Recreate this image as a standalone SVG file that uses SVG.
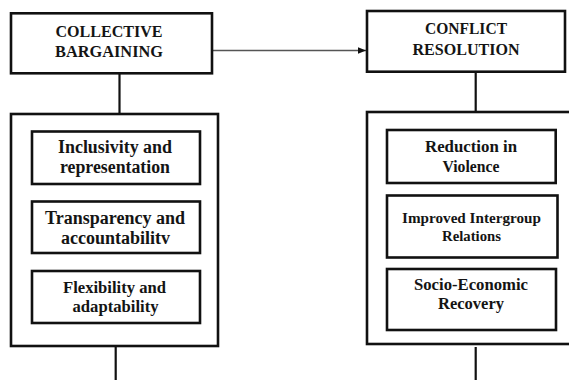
<svg xmlns="http://www.w3.org/2000/svg" width="569" height="380" viewBox="0 0 569 380">
<style>
.box{fill:#fff;stroke:#111;stroke-width:2.6}
.t{font-family:"Liberation Serif","Times New Roman",serif;font-weight:bold;fill:#141414;text-anchor:middle}
.h{font-size:16px}
.conn{stroke:#111;stroke-width:2.2;fill:none}
.arr{stroke:#555;stroke-width:1.3;fill:none}
</style>
<defs>
<marker id="ah" markerWidth="8" markerHeight="8" refX="8" refY="4" orient="auto" markerUnits="userSpaceOnUse">
<path d="M0,0.8 L8,4 L0,7.2 Z" fill="#111"/>
</marker>
</defs>
<rect width="569" height="380" fill="#fff"/>
<g id="connectors">
<line class="arr" x1="213" y1="50.5" x2="366" y2="50.5" marker-end="url(#ah)"/>
<line class="conn" x1="119.5" y1="73" x2="119.5" y2="114"/>
<line class="conn" x1="475.7" y1="72" x2="475.7" y2="112"/>
<line class="conn" x1="115.7" y1="346" x2="115.7" y2="380"/>
<line class="conn" x1="475.7" y1="347" x2="475.7" y2="380"/>
</g>
<g id="collective-bargaining">
<rect class="box" x="11" y="13.3" width="201" height="60"/>
<text class="t h" x="109" y="36.7" textLength="107" lengthAdjust="spacingAndGlyphs">COLLECTIVE</text>
<text class="t h" x="109" y="56.7" textLength="108" lengthAdjust="spacingAndGlyphs">BARGAINING</text>
</g>
<g id="conflict-resolution">
<rect class="box" x="367" y="11" width="198" height="60.7"/>
<text class="t h" x="466" y="33.5" textLength="82" lengthAdjust="spacingAndGlyphs">CONFLICT</text>
<text class="t h" x="466" y="54.5" textLength="107" lengthAdjust="spacingAndGlyphs">RESOLUTION</text>
</g>
<g id="cb-group">
<rect class="box" x="11" y="114" width="207" height="232"/>
</g>
<g id="inclusivity">
<rect class="box" x="32" y="131.5" width="168" height="52.5"/>
<text class="t" font-size="18" x="115" y="153.3" textLength="114" lengthAdjust="spacingAndGlyphs">Inclusivity and</text>
<text class="t" font-size="18" x="115" y="173.3" textLength="110" lengthAdjust="spacingAndGlyphs">representation</text>
</g>
<g id="transparency">
<rect class="box" x="32" y="201.5" width="168" height="51.5"/>
<text class="t" font-size="18" x="115" y="224.3" textLength="140" lengthAdjust="spacingAndGlyphs">Transparency and</text>
<text class="t" font-size="18" x="115.5" y="244.3" textLength="109" lengthAdjust="spacingAndGlyphs">accountabilitv</text>
</g>
<g id="flexibility">
<rect class="box" x="32" y="271" width="168" height="52"/>
<text class="t" font-size="16" x="114.5" y="292.7" textLength="103" lengthAdjust="spacingAndGlyphs">Flexibility and</text>
<text class="t" font-size="16" x="115.5" y="311.7" textLength="86" lengthAdjust="spacingAndGlyphs">adaptability</text>
</g>
<g id="cr-group">
<rect class="box" x="367" y="112" width="210" height="232"/>
</g>
<g id="reduction">
<rect class="box" x="387" y="130" width="168.7" height="53"/>
<text class="t" font-size="16" x="471" y="151.5" textLength="92" lengthAdjust="spacingAndGlyphs">Reduction in</text>
<text class="t" font-size="16" x="471" y="171.5" textLength="57" lengthAdjust="spacingAndGlyphs">Violence</text>
</g>
<g id="intergroup">
<rect class="box" x="387" y="195.5" width="170.5" height="62"/>
<text class="t" font-size="15" x="471.5" y="222.7" textLength="139" lengthAdjust="spacingAndGlyphs">Improved Intergroup</text>
<text class="t" font-size="15" x="471.5" y="240.5" textLength="59" lengthAdjust="spacingAndGlyphs">Relations</text>
</g>
<g id="socio-economic">
<rect class="box" x="387" y="269" width="169" height="61"/>
<text class="t" font-size="16.5" x="471" y="290.3" textLength="114" lengthAdjust="spacingAndGlyphs">Socio-Economic</text>
<text class="t" font-size="16.5" x="471" y="309.3" textLength="66" lengthAdjust="spacingAndGlyphs">Recovery</text>
</g>
</svg>
